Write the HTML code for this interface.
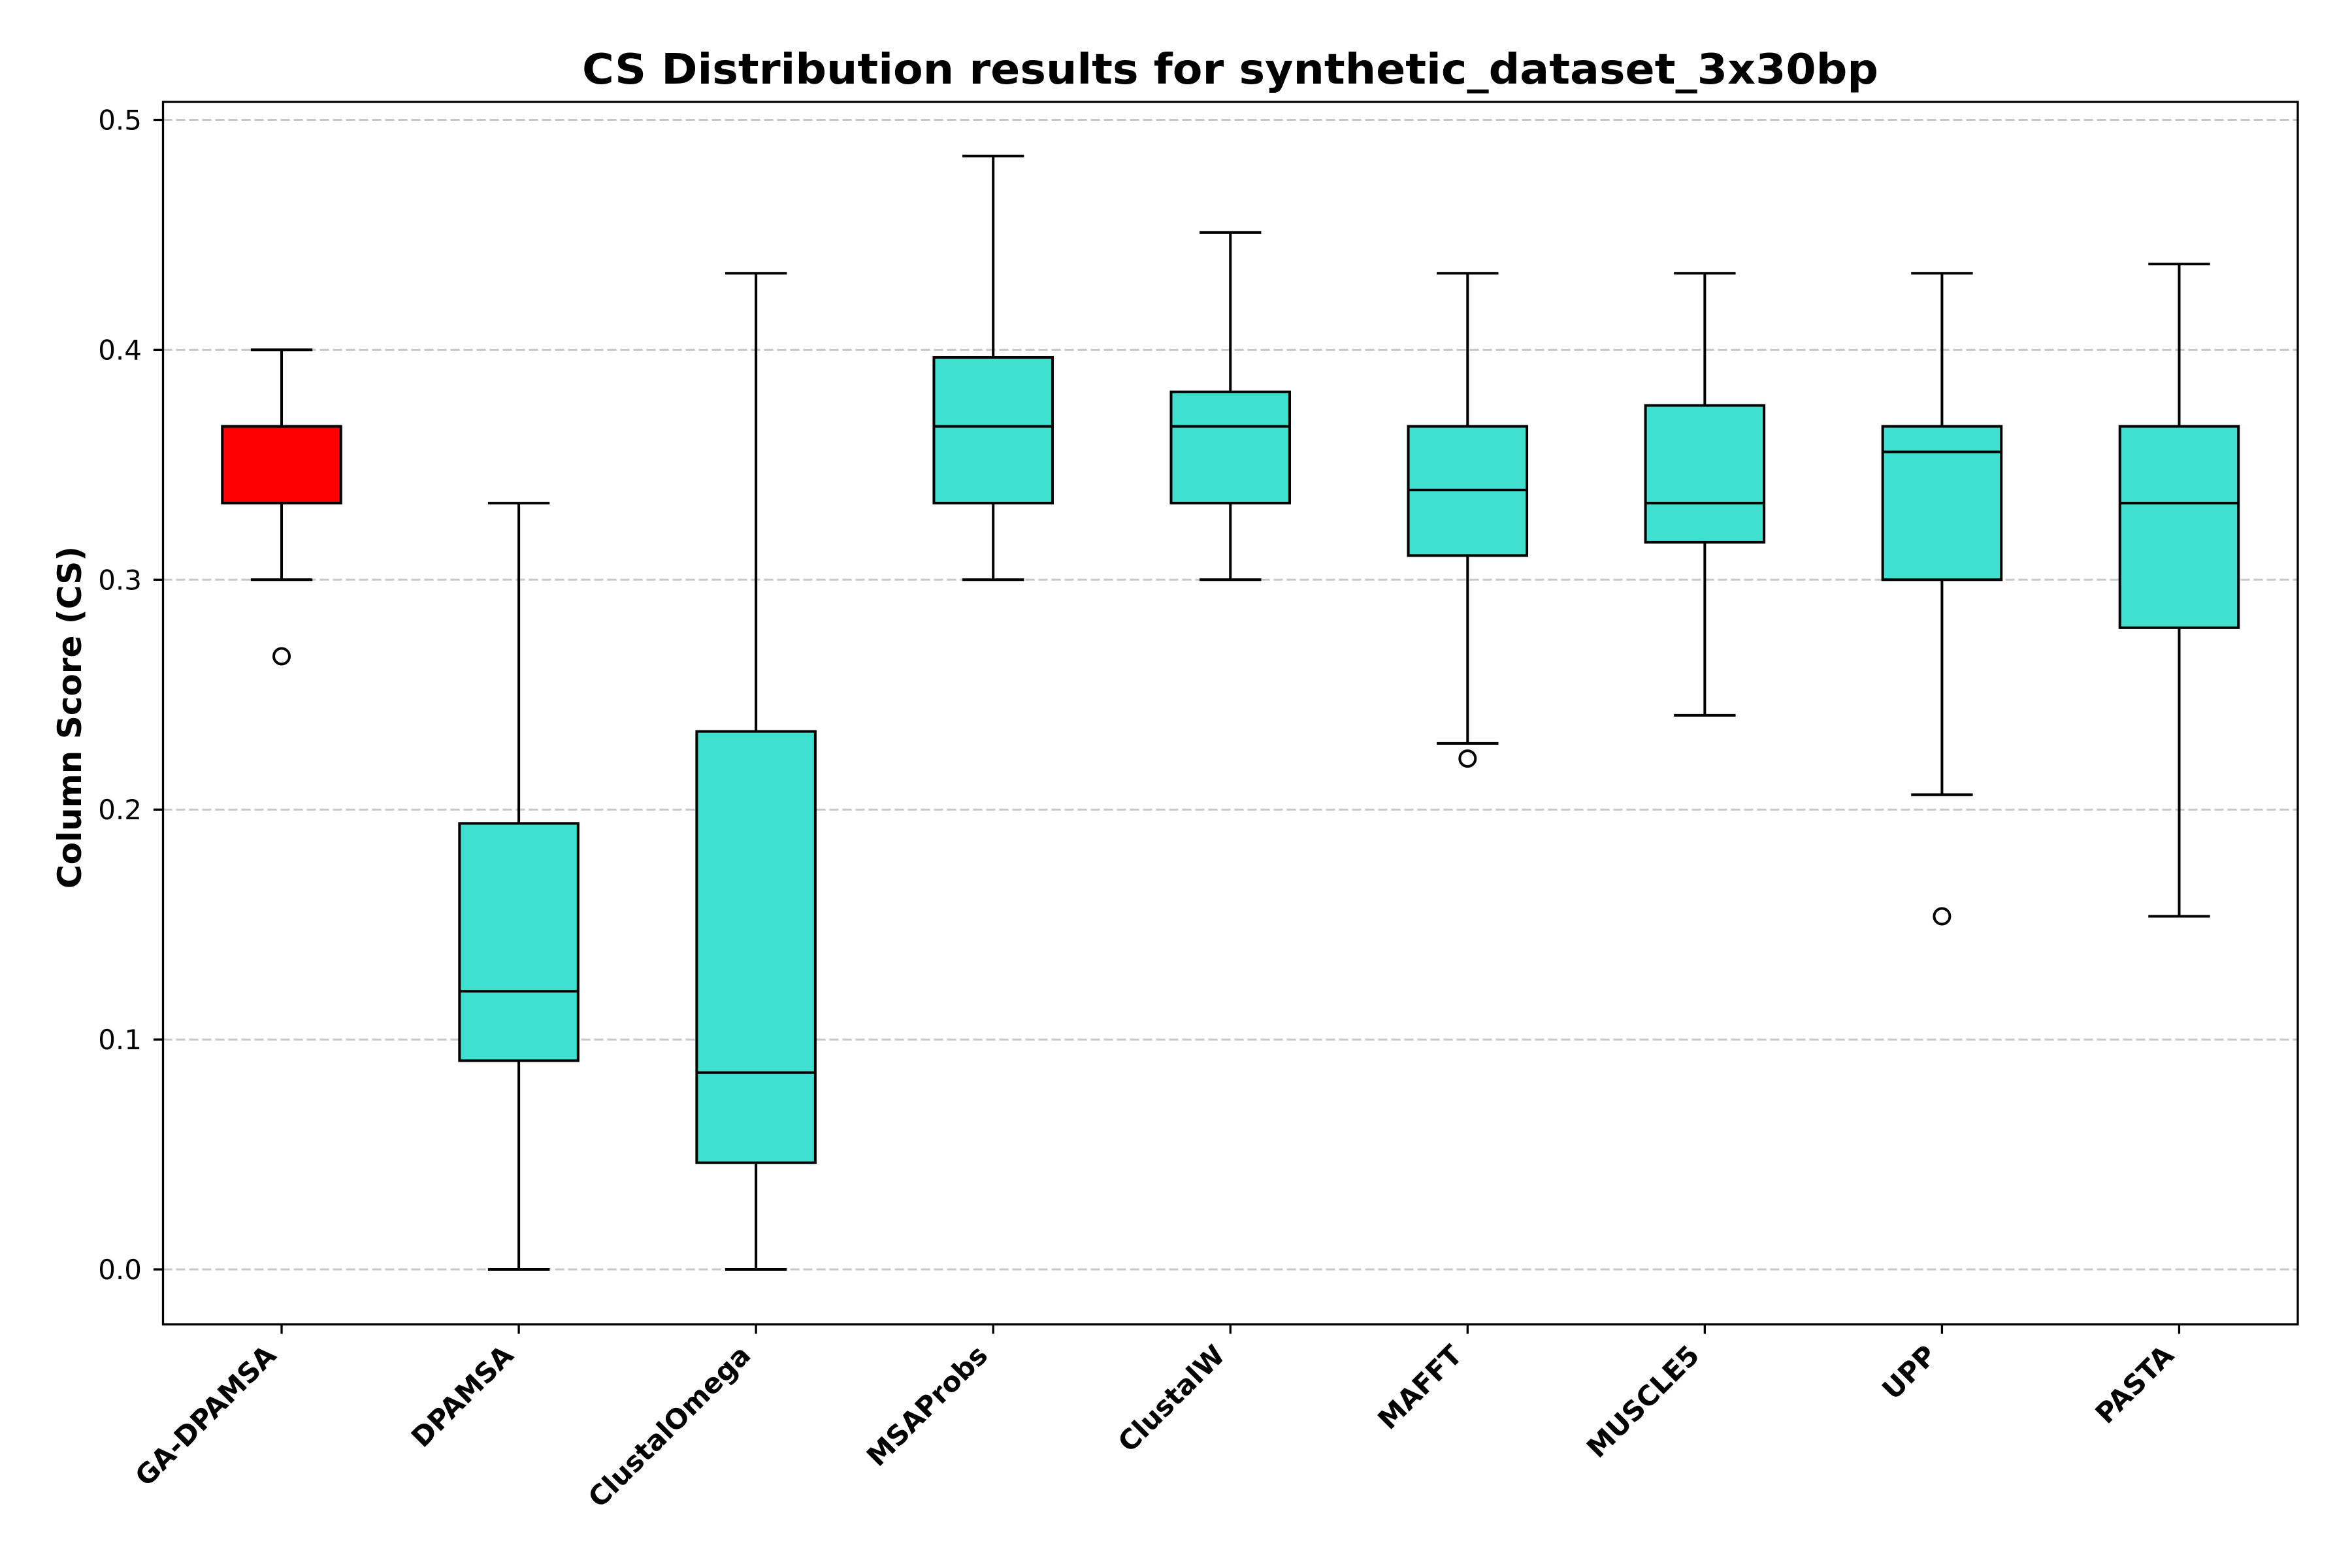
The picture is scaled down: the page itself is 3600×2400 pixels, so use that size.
<!DOCTYPE html>
<html><head><meta charset="utf-8"><style>html,body{margin:0;padding:0;background:#fff}svg{display:block}</style></head>
<body>
<svg id="chart" width="3600" height="2400" viewBox="0 0 3600 2400" xmlns="http://www.w3.org/2000/svg" font-family="'DejaVu Sans','Liberation Sans',sans-serif">
<rect x="0" y="0" width="3600" height="2400" fill="#fff"/>
<text x="1883" y="128" text-anchor="middle" font-size="64" font-weight="bold" textLength="1984" lengthAdjust="spacingAndGlyphs">CS Distribution results for synthetic_dataset_3x30bp</text>
<g id="grid"></g>
<g id="boxes"></g>
<rect x="249.5" y="156" width="3267.5" height="1871" fill="none" stroke="#000" stroke-width="3.3"/>
<g id="yaxis"></g>
<g id="xaxis"></g>
<text transform="translate(124,1098) rotate(-90)" text-anchor="middle" font-size="50" font-weight="bold">Column Score (CS)</text>
</svg>
<script>
const categories = ["GA-DPAMSA","DPAMSA","ClustalOmega","MSAProbs","ClustalW","MAFFT","MUSCLE5","UPP","PASTA"];
const whiskerLow = [0.300,0.000,0.000,0.300,0.300,0.2288,0.241,0.2065,0.1536];
const q1 = [0.3333,0.0908,0.0464,0.3333,0.3333,0.3105,0.3163,0.300,0.2791];
const medians = [0.3667,0.121,0.0856,0.3667,0.3667,0.339,0.3333,0.3556,0.3333];
const q3 = [0.3667,0.194,0.234,0.3967,0.3817,0.3667,0.3758,0.3667,0.3667];
const whiskerHigh = [0.400,0.3333,0.4333,0.4843,0.451,0.4333,0.4333,0.4333,0.4373];
const outliers = [[0.2667],[],[],[],[],[0.2222],[],[0.1536],[]];
const yTicks = [0.0,0.1,0.2,0.3,0.4,0.5];
const yTickLabels = ["0.0","0.1","0.2","0.3","0.4","0.5"];

const NS = "http://www.w3.org/2000/svg";
const L = 249.5, R = 3517, T = 156, B = 2027;
const y0px = 1943, yPer = 3519;
function yScale(v){ return y0px - v * yPer; }
function xScale(i){ return L + (i + 0.5) * (R - L) / categories.length; }
const step = (R - L) / categories.length;
function mk(tag, attrs, parent){ const e = document.createElementNS(NS, tag); for (const k in attrs) e.setAttribute(k, attrs[k]); parent.appendChild(e); return e; }

const grid = document.getElementById('grid');
const yaxis = document.getElementById('yaxis');
yTicks.forEach((t, i) => {
  const y = yScale(t);
  const g = mk('line', {x1:L, x2:R, y1:y, y2:y, stroke:'#c8c8c8', 'stroke-width':3, 'stroke-dasharray':'14 6'}, grid);
  
  
  const tk = mk('line', {x1:L-14.6, x2:L, y1:y, y2:y, stroke:'#000', 'stroke-width':3.3}, yaxis);
  
  
  const tx = mk('text', {x:217, y:y+15, 'text-anchor':'end', 'font-size':42}, yaxis);
  tx.textContent = yTickLabels[i];
  
  
});

const boxes = document.getElementById('boxes');
const xaxis = document.getElementById('xaxis');
categories.forEach((c, i) => {
  const cx = xScale(i);
  const bw = step * 0.5, cw = step * 0.26;
  const g = mk('g', {}, boxes);
  
  
  const st = {stroke:'#000', 'stroke-width':4};
  mk('line', Object.assign({x1:cx, x2:cx, y1:yScale(whiskerLow[i]), y2:yScale(q1[i])}, st), g);
  mk('line', Object.assign({x1:cx, x2:cx, y1:yScale(q3[i]), y2:yScale(whiskerHigh[i])}, st), g);
  mk('line', Object.assign({x1:cx-cw/2, x2:cx+cw/2, y1:yScale(whiskerLow[i]), y2:yScale(whiskerLow[i])}, st), g);
  mk('line', Object.assign({x1:cx-cw/2, x2:cx+cw/2, y1:yScale(whiskerHigh[i]), y2:yScale(whiskerHigh[i])}, st), g);
  mk('rect', Object.assign({x:cx-bw/2, y:yScale(q3[i]), width:bw, height:yScale(q1[i])-yScale(q3[i]), fill: i===0 ? '#ff0000' : '#40e0d0'}, st), g);
  mk('line', Object.assign({x1:cx-bw/2, x2:cx+bw/2, y1:yScale(medians[i]), y2:yScale(medians[i])}, st), g);
  outliers[i].forEach(v => {
    const o = mk('circle', {cx:cx, cy:yScale(v), r:12, fill:'none', stroke:'#000', 'stroke-width':4}, g);
    
    
  });
  const tk = mk('line', {x1:cx, x2:cx, y1:B, y2:B+14.6, stroke:'#000', 'stroke-width':3.3}, xaxis);
  
  
  const ax = cx - 6, ay = 2077;
  const tx = mk('text', {x:ax, y:ay, 'text-anchor':'end', 'font-size':42, 'font-weight':'bold', transform:'rotate(-45 '+ax+' '+ay+')'}, xaxis);
  tx.textContent = c;
  
  
});
</script>
</body></html>
